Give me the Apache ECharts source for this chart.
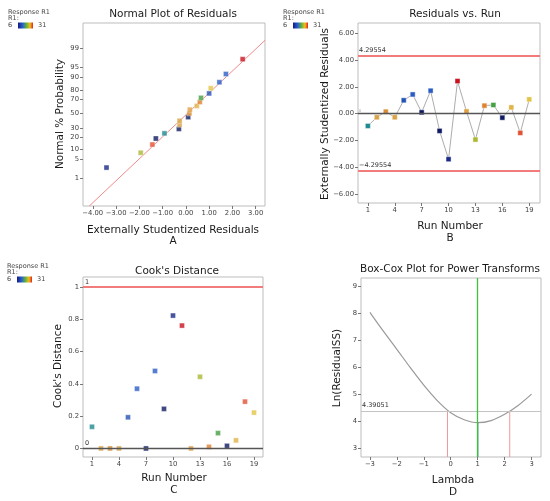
<!DOCTYPE html>
<html>
<head>
<meta charset="utf-8">
<script src="https://cdn.jsdelivr.net/npm/echarts@6/dist/echarts.min.js"></script>
<style>html,body{margin:0;padding:0;background:#fff}#main{width:550px;height:501px}</style>
</head>
<body>
<div id="main"></div>
<script>
// data
var runs = [1,2,3,4,5,6,7,8,9,10,11,12,13,14,15,16,17,18,19];
var residuals = [-0.92,-0.27,0.15,-0.27,1.00,1.44,0.10,1.72,-1.29,-3.41,2.44,0.17,-1.94,0.60,0.65,-0.30,0.47,-1.44,1.07];
var cooks = [0.134,0,0,0,0.193,0.37,0,0.48,0.245,0.823,0.761,0,0.444,0.01,0.095,0.016,0.05,0.29,0.222];
var runColors = ['#1f8a90','#d9a245','#d98c35','#d9a245','#2452b4','#2a5cc4','#0f1a62','#2a5cc4','#0f1a62','#1a2a84',
                 '#c8121f','#e0a043','#aab833','#e08232','#43a043','#0f1a62','#e0b445','#e05232','#e2c445'];
var normalProb = [2.6,7.9,13.2,18.4,23.7,28.9,34.2,39.5,44.7,50,55.3,60.5,65.8,71.1,76.3,81.6,86.8,92.1,97.4];
var probTicks = [1,5,10,20,30,50,70,80,90,95,99];
var residTicks = [-4,-3,-2,-1,0,1,2,3];
var fitLine = [[-4.15,-3.32],[3.40,2.62]]; // residual vs normal score
var runTicks = [1,4,7,10,13,16,19];
var resVsRunTicks = [-6,-4,-2,0,2,4,6];
var tLimit = 4.29554;
var cookTicks = [0,0.2,0.4,0.6,0.8,1];
var lambdas = [-3,-2.5,-2,-1.5,-1,-0.5,0,0.5,1,1.5,2,2.5,3];
var lnSS = [8.05,7.35,6.68,6.0,5.35,4.78,4.33,4.07,3.96,4.04,4.27,4.6,5.02];
var lnSSLimit = 4.39051;
var lambdaBest = 1;
var lambdaLow = -0.12, lambdaHigh = 2.19;
var lambdaTicks = [-3,-2,-1,0,1,2,3];
var lnTicks = [3,4,5,6,7,8,9];

var FONT = 'DejaVu Sans';

// inverse normal cdf (probability axis)
function probit(p){
  var a=[-3.969683028665376e+01,2.209460984245205e+02,-2.759285104469687e+02,1.383577518672690e+02,-3.066479806614716e+01,2.506628277459239e+00];
  var b=[-5.447609879822406e+01,1.615858368580409e+02,-1.556989798598866e+02,6.680131188771482e+01,-1.328068155288572e+01];
  var c=[-7.784894002430293e-03,-3.223964580411365e-01,-2.400758277161838e+00,-2.549732539343734e+00,4.374664141464968e+00,2.938163982698783e+00];
  var d=[7.784695709041462e-03,3.224671290700398e-01,2.445134137142996e+00,3.754408661907416e+00];
  var q, r;
  if (p < 0.02425) {
    q = Math.sqrt(-2*Math.log(p));
    return (((((c[0]*q+c[1])*q+c[2])*q+c[3])*q+c[4])*q+c[5])/((((d[0]*q+d[1])*q+d[2])*q+d[3])*q+1);
  }
  if (p > 1-0.02425) {
    q = Math.sqrt(-2*Math.log(1-p));
    return -(((((c[0]*q+c[1])*q+c[2])*q+c[3])*q+c[4])*q+c[5])/((((d[0]*q+d[1])*q+d[2])*q+d[3])*q+1);
  }
  q = p-0.5; r = q*q;
  return (((((a[0]*r+a[1])*r+a[2])*r+a[3])*r+a[4])*r+a[5])*q/(((((b[0]*r+b[1])*r+b[2])*r+b[3])*r+b[4])*r+1);
}

function minus(s){ return String(s).replace('-', '\u2212'); }

var probPos = probTicks.map(function(p){ return probit(p/100); });

// normal plot points: sort runs by residual, pair with plotting positions
var order = runs.map(function(r, i){ return i; }).sort(function(a, b){ return residuals[a]-residuals[b]; });
var normalData = order.map(function(i, k){
  return {value: [residuals[i], probit(normalProb[k]/100)], itemStyle: {color: runColors[i]}};
});
var runData = runs.map(function(r, i){ return {value: [r, residuals[i]], itemStyle: {color: runColors[i]}}; });
var cookData = runs.map(function(r, i){ return {value: [r, cooks[i]], itemStyle: {color: runColors[i]}}; });
var curveData = lambdas.map(function(l, i){ return [l, lnSS[i]]; });
var lnSSMin = Math.min.apply(null, lnSS);

var markerStyle = {borderColor: 'rgba(255,255,255,0.7)', borderWidth: 0.6};

function axis(idx, min, max, ticks, fmt){
  return {
    gridIndex: idx, type: 'value', min: min, max: max,
    axisLine: {show: false, onZero: false},
    axisTick: {show: true, length: 3, customValues: ticks, lineStyle: {color: '#777'}},
    axisLabel: {customValues: ticks, fontSize: 6.8, color: '#444', fontFamily: FONT, margin: 4, formatter: fmt},
    splitLine: {show: false}
  };
}

var grids = [
  {left: 83, top: 23, width: 182, height: 183},
  {left: 358, top: 23, width: 182, height: 180},
  {left: 83, top: 277, width: 180, height: 180},
  {left: 361, top: 278, width: 180, height: 179}
];
grids.forEach(function(g){ g.show = true; g.borderColor = '#bdbdbd'; g.borderWidth = 1; g.backgroundColor = 'transparent'; });

function txt(x, y, s, size, rot){
  return {type: 'text', x: x, y: y, rotation: rot || 0, silent: true,
    style: {text: s, fontSize: size, fontFamily: FONT, fill: '#1a1a1a', textAlign: 'center', textVerticalAlign: 'middle'}};
}
function legend(x, y){
  return {type: 'group', x: x, y: y, silent: true, children: [
    {type: 'text', x: 0, y: 0, style: {text: 'Response R1', fontSize: 6.5, fontFamily: FONT, fill: '#444', textVerticalAlign: 'middle'}},
    {type: 'text', x: 0, y: 6.5, style: {text: 'R1:', fontSize: 6.5, fontFamily: FONT, fill: '#444', textVerticalAlign: 'middle'}},
    {type: 'text', x: 0, y: 13.5, style: {text: '6', fontSize: 6.5, fontFamily: FONT, fill: '#444', textVerticalAlign: 'middle'}},
    {type: 'rect', shape: {x: 10, y: 10.5, width: 15, height: 6},
      style: {fill: new echarts.graphic.LinearGradient(0, 0, 1, 0, [
        {offset: 0, color: '#101c80'}, {offset: 0.3, color: '#2a5cd0'}, {offset: 0.55, color: '#5ab040'},
        {offset: 0.8, color: '#f0c020'}, {offset: 1, color: '#e02020'}])}},
    {type: 'text', x: 30, y: 13.5, style: {text: '31', fontSize: 6.5, fontFamily: FONT, fill: '#444', textVerticalAlign: 'middle'}}
  ]};
}

var option = {
  animation: false,
  backgroundColor: '#fff',
  grid: grids,
  xAxis: [
    axis(0, -4.42, 3.4, residTicks, function(v){ return minus(v.toFixed(2)); }),
    axis(1, -0.1, 20.2, runTicks, function(v){ return v; }),
    axis(2, 0, 20, runTicks, function(v){ return v; }),
    axis(3, -3.33, 3.35, lambdaTicks, function(v){ return minus(v); })
  ],
  yAxis: [
    axis(0, -3.32, 3.24, probPos, function(v){
      var best = 0;
      probPos.forEach(function(p, i){ if (Math.abs(p-v) < Math.abs(probPos[best]-v)) best = i; });
      return probTicks[best];
    }),
    axis(1, -6.69, 6.79, resVsRunTicks, function(v){ return minus(v.toFixed(2)); }),
    axis(2, -0.053, 1.062, cookTicks, function(v){ return v; }),
    axis(3, 2.69, 9.32, lnTicks, function(v){ return v; })
  ],
  graphic: [
    txt(173, 14, 'Normal Plot of Residuals', 10.5),
    txt(173, 230, 'Externally Studentized Residuals', 10.5),
    txt(173, 241, 'A', 10.5),
    txt(60, 114, 'Normal % Probability', 10.5, Math.PI/2),
    txt(455, 14, 'Residuals vs. Run', 10.5),
    txt(450, 226, 'Run Number', 10.5),
    txt(450, 238, 'B', 10.5),
    txt(325, 114, 'Externally Studentized Residuals', 10.5, Math.PI/2),
    txt(177, 271, "Cook's Distance", 10.5),
    txt(174, 478, 'Run Number', 10.5),
    txt(174, 490, 'C', 10.5),
    txt(58, 366, "Cook's Distance", 10.5, Math.PI/2),
    txt(450, 269, 'Box-Cox Plot for Power Transforms', 10.5),
    txt(453, 480, 'Lambda', 10.5),
    txt(453, 492, 'D', 10.5),
    txt(337, 368, 'Ln(ResidualSS)', 10.5, Math.PI/2),
    legend(8, 12),
    legend(283, 12),
    legend(7, 266)
  ],
  series: [
    {type: 'line', xAxisIndex: 0, yAxisIndex: 0, data: fitLine, showSymbol: false, silent: true,
      lineStyle: {color: '#f08a8a', width: 1}, z: 1},
    {type: 'scatter', xAxisIndex: 0, yAxisIndex: 0, data: normalData, symbol: 'rect', symbolSize: 5,
      itemStyle: markerStyle, z: 3},
    {type: 'line', xAxisIndex: 1, yAxisIndex: 1, data: runData, symbol: 'rect', symbolSize: 5, showAllSymbol: true,
      lineStyle: {color: '#adadad', width: 1}, itemStyle: markerStyle, z: 3,
      markLine: {silent: true, symbol: ['none', 'none'], data: [
        {yAxis: 0, lineStyle: {color: '#555', width: 1.4, type: 'solid'}, label: {show: true, position: 'insideStartTop', formatter: '0', fontSize: 4, color: '#999', distance: [1, 1]}},
        {yAxis: tLimit, lineStyle: {color: '#f27c7c', width: 2, type: 'solid'}, label: {show: true, position: 'insideStartTop', formatter: String(tLimit), fontSize: 6.5, color: '#333', fontFamily: FONT, distance: [1, 2]}},
        {yAxis: -tLimit, lineStyle: {color: '#f27c7c', width: 2, type: 'solid'}, label: {show: true, position: 'insideStartTop', formatter: minus(-tLimit), fontSize: 6.5, color: '#333', fontFamily: FONT, distance: [1, 2]}}
      ]}},
    {type: 'scatter', xAxisIndex: 2, yAxisIndex: 2, data: cookData, symbol: 'rect', symbolSize: 5,
      itemStyle: markerStyle, z: 3,
      markLine: {silent: true, symbol: ['none', 'none'], data: [
        {yAxis: 0, lineStyle: {color: '#555', width: 1.4, type: 'solid'}, label: {show: true, position: 'insideStartTop', formatter: '0', fontSize: 6.5, color: '#333', fontFamily: FONT, distance: [2, 2]}},
        {yAxis: 1, lineStyle: {color: '#f27c7c', width: 2, type: 'solid'}, label: {show: true, position: 'insideStartTop', formatter: '1', fontSize: 6.5, color: '#333', fontFamily: FONT, distance: [2, 1]}}
      ]}},
    {type: 'line', xAxisIndex: 3, yAxisIndex: 3, data: curveData, smooth: 0.35, showSymbol: false, silent: true,
      lineStyle: {color: '#9a9a9a', width: 1.2}, z: 3,
      markLine: {silent: true, symbol: ['none', 'none'], data: [
        {yAxis: lnSSLimit, lineStyle: {color: '#c4c4c4', width: 1, type: 'solid'}, label: {show: true, position: 'insideStartTop', formatter: String(lnSSLimit), fontSize: 6.5, color: '#333', fontFamily: FONT, distance: [1, 2]}},
        {xAxis: lambdaBest, lineStyle: {color: '#3cc23c', width: 1.3, type: 'solid'}, label: {show: false}}
      ]}},
    {type: 'line', xAxisIndex: 3, yAxisIndex: 3, data: [[lambdaBest, lnSSMin], [lambdaBest, 2.69]], showSymbol: false, silent: true,
      lineStyle: {color: '#2a6a86', width: 1.3}, z: 4},
    {type: 'line', xAxisIndex: 3, yAxisIndex: 3, data: [[lambdaLow, lnSSLimit], [lambdaLow, 2.69]], showSymbol: false, silent: true,
      lineStyle: {color: '#f09a9a', width: 1}, z: 2},
    {type: 'line', xAxisIndex: 3, yAxisIndex: 3, data: [[lambdaHigh, lnSSLimit], [lambdaHigh, 2.69]], showSymbol: false, silent: true,
      lineStyle: {color: '#f09a9a', width: 1}, z: 2}
  ]
};

var myChart = echarts.init(document.getElementById('main'));
myChart.setOption(option);
</script>
</body>
</html>
